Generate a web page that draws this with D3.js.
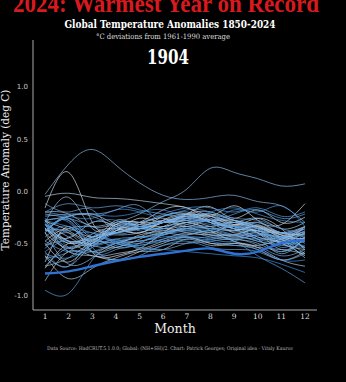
<!DOCTYPE html>
<html><head><meta charset="utf-8">
<script src="https://cdn.jsdelivr.net/npm/d3@7"></script>
<style>html,body{margin:0;padding:0;background:#000;}svg{display:block;}</style>
</head><body>
<svg id="chart" width="346" height="382"></svg>
<script>
const months = [1,2,3,4,5,6,7,8,9,10,11,12];
const monthLabels = ["1","2","3","4","5","6","7","8","9","10","11","12"];
const yTicks = [-1.0,-0.5,0.0,0.5,1.0];
const yTickLabels = ["-1.0","-0.5","0.0","0.5","1.0"];
const years = d3.range(1850, 1905);
const currentYear = 1904;
const anomalies = [
 [-0.68,-0.34,-0.59,-0.62,-0.55,-0.40,-0.30,-0.38,-0.48,-0.52,-0.46,-0.39],
 [-0.16,0.18,-0.30,-0.38,-0.26,-0.30,-0.22,-0.15,-0.26,-0.18,-0.30,-0.25],
 [-0.29,-0.38,-0.48,-0.38,-0.30,-0.18,-0.16,-0.24,-0.14,-0.28,-0.32,-0.12],
 [-0.36,-0.45,-0.30,-0.34,-0.40,-0.28,-0.22,-0.30,-0.38,-0.33,-0.42,-0.36],
 [-0.48,-0.36,-0.44,-0.32,-0.30,-0.34,-0.26,-0.24,-0.33,-0.30,-0.40,-0.34],
 [-0.28,-0.50,-0.41,-0.36,-0.40,-0.30,-0.28,-0.22,-0.32,-0.26,-0.36,-0.56],
 [-0.40,-0.55,-0.47,-0.40,-0.32,-0.26,-0.34,-0.28,-0.40,-0.36,-0.44,-0.45],
 [-0.35,-0.58,-0.62,-0.66,-0.58,-0.50,-0.44,-0.50,-0.52,-0.56,-0.66,-0.58],
 [-0.50,-0.68,-0.50,-0.50,-0.42,-0.38,-0.34,-0.40,-0.32,-0.40,-0.48,-0.34],
 [-0.28,-0.24,-0.22,-0.32,-0.36,-0.30,-0.28,-0.34,-0.38,-0.34,-0.42,-0.46],
 [-0.36,-0.48,-0.58,-0.50,-0.44,-0.36,-0.40,-0.42,-0.42,-0.38,-0.50,-0.56],
 [-0.74,-0.50,-0.52,-0.54,-0.46,-0.40,-0.42,-0.38,-0.44,-0.40,-0.50,-0.44],
 [-0.62,-0.84,-0.74,-0.64,-0.58,-0.56,-0.46,-0.52,-0.50,-0.54,-0.66,-0.72],
 [-0.05,-0.02,-0.06,-0.07,-0.09,-0.12,-0.16,-0.24,-0.30,-0.35,-0.40,-0.42],
 [-0.86,-0.58,-0.62,-0.60,-0.56,-0.48,-0.44,-0.50,-0.50,-0.54,-0.56,-0.60],
 [-0.32,-0.44,-0.50,-0.32,-0.30,-0.28,-0.22,-0.26,-0.30,-0.26,-0.36,-0.30],
 [-0.20,-0.22,-0.34,-0.32,-0.30,-0.24,-0.20,-0.28,-0.36,-0.38,-0.40,-0.34],
 [-0.40,-0.26,-0.44,-0.28,-0.34,-0.30,-0.24,-0.22,-0.28,-0.34,-0.46,-0.64],
 [-0.72,-0.64,-0.48,-0.38,-0.36,-0.30,-0.22,-0.20,-0.28,-0.32,-0.40,-0.42],
 [-0.30,-0.06,-0.36,-0.34,-0.32,-0.30,-0.30,-0.34,-0.30,-0.36,-0.42,-0.54],
 [-0.36,-0.50,-0.46,-0.40,-0.36,-0.30,-0.24,-0.30,-0.36,-0.44,-0.50,-0.62],
 [-0.62,-0.72,-0.50,-0.36,-0.36,-0.34,-0.24,-0.30,-0.34,-0.40,-0.56,-0.46],
 [-0.52,-0.40,-0.50,-0.30,-0.34,-0.24,-0.22,-0.28,-0.28,-0.34,-0.40,-0.50],
 [-0.32,-0.54,-0.44,-0.42,-0.40,-0.34,-0.30,-0.28,-0.36,-0.38,-0.44,-0.38],
 [-0.26,-0.48,-0.46,-0.54,-0.50,-0.40,-0.38,-0.42,-0.46,-0.50,-0.58,-0.46],
 [-0.40,-0.70,-0.64,-0.52,-0.48,-0.42,-0.36,-0.40,-0.42,-0.46,-0.60,-0.44],
 [-0.38,-0.40,-0.58,-0.54,-0.50,-0.46,-0.40,-0.44,-0.46,-0.42,-0.46,-0.60],
 [-0.55,-0.36,-0.34,-0.30,-0.22,-0.10,0.02,0.22,0.18,0.12,0.05,0.07],
 [-0.03,0.26,0.40,0.25,0.08,-0.04,-0.08,-0.06,-0.04,-0.10,-0.14,-0.30],
 [-0.24,-0.22,-0.24,-0.34,-0.34,-0.28,-0.26,-0.24,-0.30,-0.34,-0.44,-0.54],
 [-0.22,-0.26,-0.34,-0.40,-0.34,-0.36,-0.30,-0.28,-0.36,-0.46,-0.48,-0.40],
 [-0.38,-0.24,-0.22,-0.18,-0.14,-0.30,-0.22,-0.28,-0.34,-0.44,-0.46,-0.34],
 [-0.12,-0.20,-0.18,-0.40,-0.36,-0.40,-0.32,-0.28,-0.28,-0.38,-0.40,-0.44],
 [-0.32,-0.48,-0.44,-0.40,-0.34,-0.30,-0.32,-0.36,-0.42,-0.48,-0.50,-0.40],
 [-0.38,-0.28,-0.54,-0.66,-0.62,-0.52,-0.50,-0.48,-0.46,-0.52,-0.62,-0.56],
 [-0.64,-0.58,-0.44,-0.50,-0.54,-0.56,-0.50,-0.46,-0.44,-0.46,-0.44,-0.36],
 [-0.48,-0.58,-0.52,-0.40,-0.38,-0.42,-0.34,-0.36,-0.34,-0.40,-0.46,-0.40],
 [-0.72,-0.54,-0.52,-0.46,-0.44,-0.40,-0.36,-0.42,-0.42,-0.48,-0.52,-0.54],
 [-0.52,-0.48,-0.52,-0.36,-0.34,-0.30,-0.26,-0.28,-0.22,-0.18,-0.26,-0.22],
 [-0.20,-0.12,-0.16,-0.14,-0.18,-0.22,-0.26,-0.30,-0.34,-0.40,-0.44,-0.46],
 [-0.44,-0.34,-0.50,-0.46,-0.56,-0.52,-0.48,-0.54,-0.56,-0.58,-0.66,-0.60],
 [-0.58,-0.72,-0.44,-0.40,-0.36,-0.38,-0.36,-0.34,-0.30,-0.36,-0.54,-0.40],
 [-0.40,-0.28,-0.58,-0.56,-0.52,-0.48,-0.46,-0.44,-0.48,-0.62,-0.74,-0.88],
 [-0.95,-0.98,-0.66,-0.50,-0.48,-0.44,-0.42,-0.38,-0.42,-0.40,-0.46,-0.48],
 [-0.58,-0.44,-0.40,-0.48,-0.44,-0.48,-0.44,-0.46,-0.48,-0.42,-0.50,-0.48],
 [-0.60,-0.64,-0.54,-0.48,-0.44,-0.42,-0.36,-0.36,-0.36,-0.30,-0.40,-0.34],
 [-0.28,-0.30,-0.48,-0.34,-0.30,-0.22,-0.16,-0.16,-0.20,-0.16,-0.24,-0.20],
 [-0.20,-0.24,-0.26,-0.18,-0.20,-0.24,-0.18,-0.20,-0.26,-0.28,-0.36,-0.40],
 [-0.28,-0.54,-0.58,-0.50,-0.48,-0.42,-0.38,-0.36,-0.38,-0.46,-0.58,-0.46],
 [-0.30,-0.58,-0.54,-0.36,-0.34,-0.36,-0.26,-0.28,-0.18,-0.20,-0.14,-0.34],
 [-0.38,-0.24,-0.22,-0.24,-0.20,-0.18,-0.24,-0.20,-0.16,-0.22,-0.28,-0.30],
 [-0.32,-0.38,-0.30,-0.28,-0.34,-0.30,-0.28,-0.32,-0.34,-0.36,-0.48,-0.52],
 [-0.28,-0.34,-0.40,-0.48,-0.52,-0.46,-0.44,-0.48,-0.52,-0.56,-0.66,-0.66],
 [-0.38,-0.26,-0.44,-0.50,-0.54,-0.56,-0.58,-0.60,-0.62,-0.64,-0.70,-0.78],
 [-0.79,-0.77,-0.72,-0.67,-0.63,-0.60,-0.57,-0.55,-0.60,-0.58,-0.50,-0.47]
];

const svg = d3.select("#chart");
svg.append("rect").attr("width",346).attr("height",382).attr("fill","#000");

const x = d3.scaleLinear().domain([0.49, 12.51]).range([33, 317]);
const y = d3.scaleLinear().domain([-1.14, 1.45]).range([310, 40]);

const serif = "'DejaVu Serif', serif";
function fit(sel, w) {
  const n = sel.node(); const cw = n.getComputedTextLength();
  if (cw > 0) sel.attr("textLength", w).attr("lengthAdjust", "spacingAndGlyphs");
}

// titles
fit(svg.append("text").attr("x",166).attr("y",12).attr("text-anchor","middle")
  .attr("font-family","'Liberation Serif', serif").attr("font-weight","bold").attr("font-size",25)
  .attr("fill","#d81a1f").text("2024: Warmest Year on Record"), 306);
fit(svg.append("text").attr("x",170).attr("y",28).attr("text-anchor","middle")
  .attr("font-family",serif).attr("font-weight","bold").attr("font-size",10.5)
  .attr("fill","#fff").text("Global Temperature Anomalies 1850-2024"), 211);
fit(svg.append("text").attr("x",163).attr("y",39).attr("text-anchor","middle")
  .attr("font-family",serif).attr("font-size",7.5)
  .attr("fill","#ddd").text("°C deviations from 1961-1990 average"), 134);
fit(svg.append("text").attr("x",168).attr("y",64).attr("text-anchor","middle")
  .attr("font-family",serif).attr("font-weight","bold").attr("font-size",20)
  .attr("fill","#fff").text(String(currentYear)), 42);

// axes lines
svg.append("line").attr("x1",33).attr("x2",33).attr("y1",40).attr("y2",310)
  .attr("stroke","#aaa").attr("stroke-width",1);
svg.append("line").attr("x1",33).attr("x2",317).attr("y1",310).attr("y2",310)
  .attr("stroke","#aaa").attr("stroke-width",1);

// y ticks
svg.selectAll(".yt").data(yTicks).enter().append("text")
  .attr("x",28).attr("y",d=>y(d)+2.5).attr("text-anchor","end")
  .attr("font-family","'DejaVu Sans', sans-serif").attr("font-size",7)
  .attr("fill","#ccc").text((d,i)=>yTickLabels[i]);
// x ticks
svg.selectAll(".xt").data(months).enter().append("text")
  .attr("x",d=>x(d)).attr("y",319).attr("text-anchor","middle")
  .attr("font-family",serif).attr("font-size",7.5)
  .attr("fill","#ddd").text((d,i)=>monthLabels[i]);

svg.append("text").attr("x",175).attr("y",333).attr("text-anchor","middle")
  .attr("font-family",serif).attr("font-size",12.5).attr("fill","#eee").text("Month");
svg.append("text").attr("transform","translate(9,170) rotate(-90)").attr("text-anchor","middle")
  .attr("font-family",serif).attr("font-size",10.5).attr("fill","#eee")
  .text("Temperature Anomaly (deg C)");
fit(svg.append("text").attr("x",170).attr("y",350).attr("text-anchor","middle")
  .attr("font-family",serif).attr("font-size",5).attr("fill","#bbb")
  .text("Data Source: HadCRUT.5.1.0.0; Global: (NH+SH)/2. Chart: Patrick Georges; Original idea - Vitaly Kaurov"), 246);

// lines
const line = d3.line().x((d,i)=>x(months[i])).y(d=>y(d)).curve(d3.curveNatural);
const color = d3.scaleLinear().domain([1850, 1903]).range(["#dfe4ea", "#3f95e6"]).interpolate(d3.interpolateRgb);
const g = svg.append("g");
years.forEach((yr, i) => {
  if (yr === currentYear) return;
  g.append("path").attr("d", line(anomalies[i])).attr("fill","none")
    .attr("stroke", color(yr)).attr("stroke-width",0.8).attr("stroke-opacity",0.85);
});
const ci = years.indexOf(currentYear);
g.append("path").attr("d", line(anomalies[ci])).attr("fill","none")
  .attr("stroke","#2f72d2").attr("stroke-width",2.4);
</script>
</body></html>
